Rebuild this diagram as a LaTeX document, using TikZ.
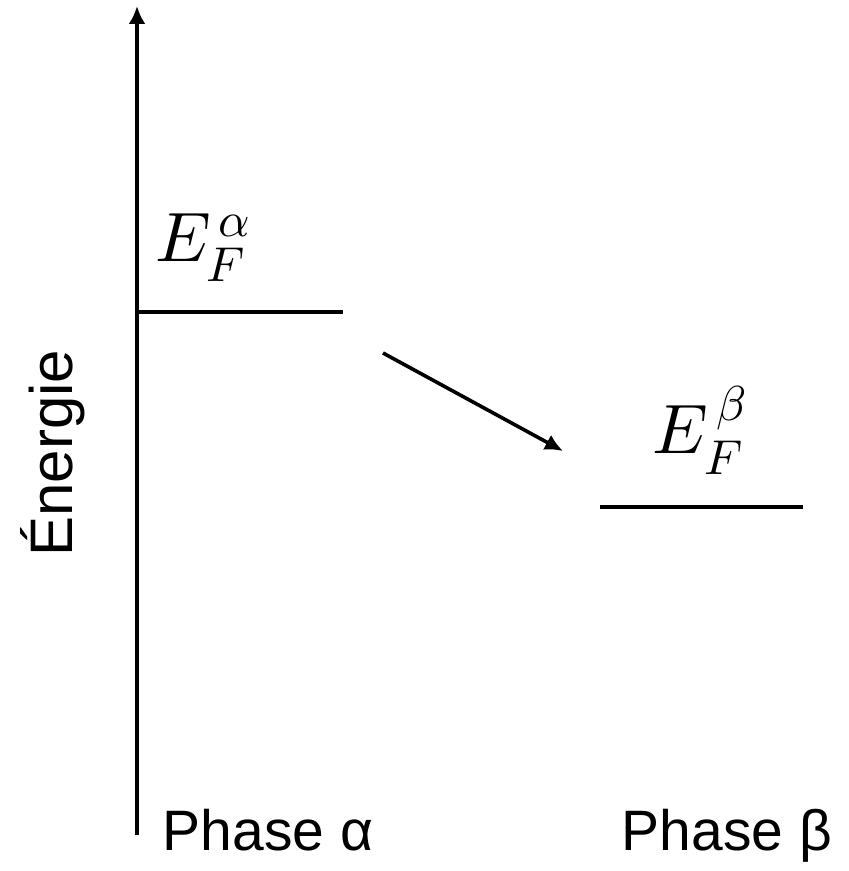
\documentclass[tikz,border=0pt]{standalone}
\usepackage{unicode-math}
\setmainfont{Liberation Sans}
\setmathfont{Latin Modern Math}
\usepackage{tikz}
\usetikzlibrary{arrows.meta,positioning}

\begin{document}
\begin{tikzpicture}[x=0.5pt,y=-0.5pt,>={Latex[length=9pt,width=8.5pt]},line width=1.8pt]
\tikzstyle{phase}=[anchor=base,inner sep=0pt,font=\fontsize{28.5}{34}\selectfont]
\tikzstyle{fermi}=[inner sep=0pt,font=\fontsize{35}{42}\selectfont]
\useasboundingbox (0,0) rectangle (848,871);
% axe des energies
\coordinate (bas) at (137,835);
\coordinate (haut) at (137,6);
\draw[->] (bas)--(haut);
\node[rotate=90,inner sep=0pt,font=\fontsize{30}{36}\selectfont] (ener) at (53,453) {Énergie};
% niveaux de Fermi
\coordinate (a1) at (137,312);\coordinate (a2) at (343,312);
\coordinate (b1) at (600,507);\coordinate (b2) at (803,507);
\draw (a1)--(a2);\draw (b1)--(b2);
\node[fermi] (ea) at (203,248) {$E_F^{\,\alpha}$};
\node[fermi] (eb) at (700,430) {$E_F^{\,\beta}$};
% transfert
\coordinate (dep) at (383,353);\coordinate (arr) at (563,451);
\draw[->] (dep)--(arr);
\node[phase] (pa) at (268,850) {Phase α};
\node[phase] (pb) at (727,850) {Phase β};
\end{tikzpicture}
\end{document}
